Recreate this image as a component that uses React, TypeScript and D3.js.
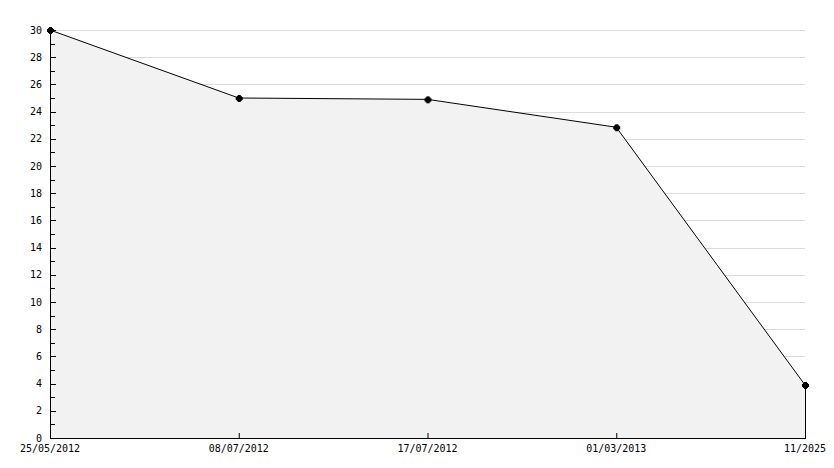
import React from "react";
import * as d3 from "d3";

const categories = ["25/05/2012", "08/07/2012", "17/07/2012", "01/03/2013", "11/2025"];
const values = [30, 25, 24.9, 22.85, 3.9];
const yTicks = [0, 2, 4, 6, 8, 10, 12, 14, 16, 18, 20, 22, 24, 26, 28, 30];
const yMinorTicks = [1, 3, 5, 7, 9, 11, 13, 15, 17, 19, 21, 23, 25, 27, 29];

export default function App() {
  const W = 834, H = 468;
  const left = 50, right = 805, top = 30, bottom = 438;
  const x = d3.scalePoint<string>().domain(categories).range([left, right]);
  const y = d3.scaleLinear().domain([0, 30]).range([bottom, top]);
  const data = categories.map((c, i) => ({ c, v: values[i] }));
  const area = d3.area<{ c: string; v: number }>()
    .x(d => x(d.c)!)
    .y0(bottom)
    .y1(d => y(d.v));
  const line = d3.line<{ c: string; v: number }>()
    .x(d => x(d.c)!)
    .y(d => y(d.v));
  const font = "'DejaVu Sans Mono', monospace";
  return (
    <svg width={W} height={H} style={{ position: "absolute", left: 0, top: 0, background: "#fff" }}>
      {yTicks.filter(t => t > 0).map(t => (
        <line key={"g" + t} x1={left} x2={right} y1={Math.round(y(t)) + 0.5} y2={Math.round(y(t)) + 0.5} stroke="#dcdcdc" strokeWidth={1} />
      ))}
      <path d={area(data)!} fill="#f2f2f2" />
      <path d={line(data)!} fill="none" stroke="#000" strokeWidth={1} />
      <line x1={right + 0.5} x2={right + 0.5} y1={y(values[values.length - 1])} y2={bottom} stroke="#000" />
      {/* y axis */}
      <line x1={left + 0.5} x2={left + 0.5} y1={top} y2={bottom + 0.5} stroke="#000" />
      {yTicks.map(t => (
        <g key={"t" + t}>
          <line x1={left} x2={left + 6} y1={Math.round(y(t)) + 0.5} y2={Math.round(y(t)) + 0.5} stroke="#000" />
          <text x={42} y={y(t)} dy="0.35em" textAnchor="end" fontFamily={font} fontSize={10} fill="#000">{t}</text>
        </g>
      ))}
      {yMinorTicks.map(t => (
        <line key={"m" + t} x1={left} x2={left + 5} y1={Math.round(y(t)) + 0.5} y2={Math.round(y(t)) + 0.5} stroke="#000" />
      ))}
      {/* x axis */}
      <line x1={left} x2={right + 1} y1={bottom + 0.5} y2={bottom + 0.5} stroke="#000" />
      {categories.map(c => (
        <g key={"x" + c}>
          <line x1={x(c)! + 0.5} x2={x(c)! + 0.5} y1={bottom - 5} y2={bottom} stroke="#000" />
          <text x={x(c)!} y={452} textAnchor="middle" fontFamily={font} fontSize={10} fill="#000">{c}</text>
        </g>
      ))}
      {data.map(d => (
        <g key={"p" + d.c}>
          <rect x={x(d.c)! - 2} y={y(d.v) - 2} width={5} height={5} fill="#000" />
          <rect x={x(d.c)! - 3} y={y(d.v) - 1} width={7} height={3} fill="#000" />
          <rect x={x(d.c)! - 1} y={y(d.v) - 3} width={3} height={7} fill="#000" />
        </g>
      ))}
    </svg>
  );
}
